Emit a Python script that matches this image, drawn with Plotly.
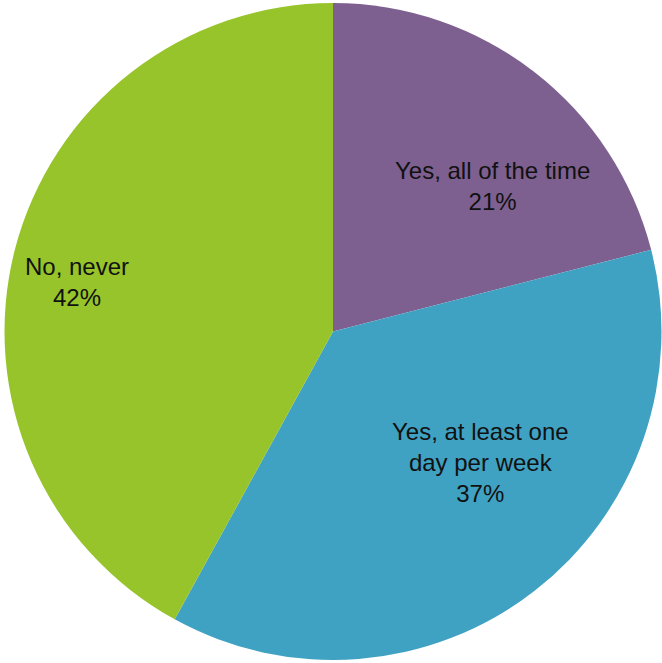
import plotly.graph_objects as go

labels = ["Yes, all of the time", "Yes, at least one day per week", "No, never"]
label_text = ["Yes, all of the time", "Yes, at least one<br>day per week", "No, never"]
values = [21, 37, 42]
colors = ["#7D6090", "#40A2C2", "#97C42A"]
# label anchor positions (pixels from top-left)
label_pos = [(492, 186), (480, 462), (77, 282)]

W, H = 662, 663

fig = go.Figure(go.Pie(
    labels=labels, values=values, sort=False, direction="clockwise", rotation=0,
    marker=dict(colors=colors, line=dict(width=0)),
    textinfo="none", hoverinfo="label+percent", showlegend=False,
    domain=dict(x=[4 / W, 662 / W], y=[1 - 660 / H, 1 - 3 / H]),
))

for t, v, (px, py) in zip(label_text, values, label_pos):
    fig.add_annotation(
        x=px / W, y=1 - py / H, xref="paper", yref="paper",
        text=f"{t}<br>{v}%", showarrow=False, align="center",
        font=dict(family="Liberation Sans", size=24, color="#111111"),
        xanchor="center", yanchor="middle",
    )

fig.update_layout(
    width=W, height=H, margin=dict(l=0, r=0, t=0, b=0),
    paper_bgcolor="white", plot_bgcolor="white",
)
fig.write_html(
    "out.html",
    config={"displayModeBar": False},
    post_script="document.body.style.margin='0';document.body.style.overflow='hidden';",
)
